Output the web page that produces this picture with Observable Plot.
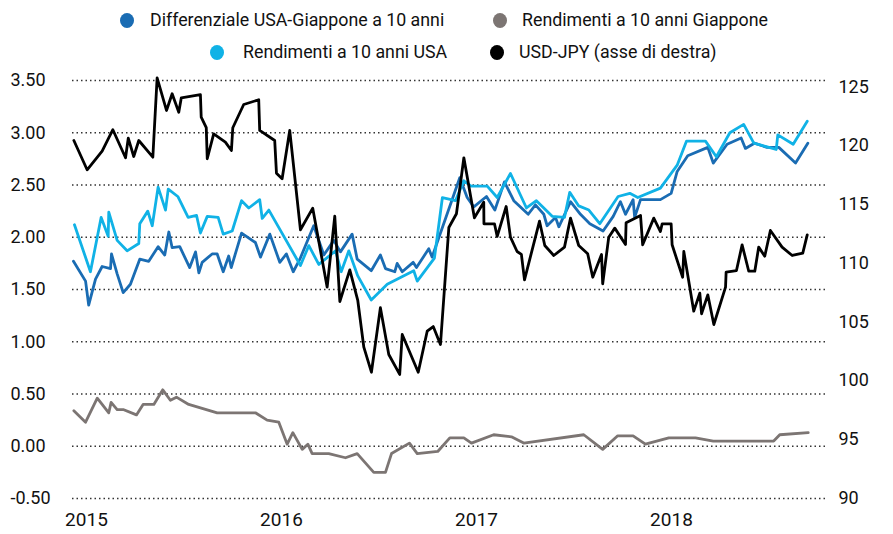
<!DOCTYPE html>
<html><head><meta charset="utf-8">
<script src="https://cdn.jsdelivr.net/npm/d3@7"></script>
<script src="https://cdn.jsdelivr.net/npm/@observablehq/plot@0.6"></script>
<style>
body{margin:0;background:#fff;font-family:Roboto,"Noto Sans",sans-serif;color:#111;}
#legend{height:68px;position:relative;width:893px;}
.dot{position:absolute;width:14px;height:15px;border-radius:50%;}
.lab{position:absolute;font-size:17.8px;line-height:20px;white-space:nowrap;}
</style></head>
<body>
<div id="legend"></div>
<div id="chart"></div>
<script>
// ---- data ----
const seriesNames = ["Differenziale USA-Giappone a 10 anni","Rendimenti a 10 anni Giappone","Rendimenti a 10 anni USA","USD-JPY (asse di destra)"];
const seriesColors = ["#1a6cb3","#7c7573","#10b2e6","#000000"];

const diffDates = [2015.000,2015.062,2015.078,2015.113,2015.147,2015.190,2015.195,2015.224,2015.255,2015.292,2015.340,2015.386,2015.434,2015.468,2015.489,2015.506,2015.545,2015.596,2015.626,2015.643,2015.660,2015.711,2015.737,2015.768,2015.796,2015.809,2015.862,2015.933,2015.959,2016.007,2016.058,2016.092,2016.127,2016.161,2016.232,2016.284,2016.335,2016.369,2016.429,2016.455,2016.527,2016.574,2016.600,2016.648,2016.660,2016.686,2016.742,2016.759,2016.822,2016.839,2016.981,2017.019,2017.053,2017.118,2017.161,2017.210,2017.258,2017.332,2017.369,2017.412,2017.429,2017.472,2017.489,2017.549,2017.600,2017.648,2017.716,2017.768,2017.805,2017.831,2017.870,2017.878,2017.908,2018.010,2018.065,2018.096,2018.150,2018.253,2018.281,2018.352,2018.424,2018.446,2018.492,2018.557,2018.617,2018.703,2018.766];
const diffValues = [1.77,1.58,1.35,1.60,1.72,1.70,1.84,1.65,1.47,1.55,1.79,1.77,1.91,1.83,2.05,1.90,1.91,1.71,1.86,1.66,1.76,1.84,1.84,1.67,1.82,1.71,2.04,1.95,1.81,2.03,1.76,1.84,1.67,1.79,2.11,1.83,1.97,1.86,2.03,1.79,1.68,1.83,1.70,1.67,1.75,1.67,1.76,1.71,1.89,1.81,2.57,2.38,2.29,2.39,2.26,2.53,2.35,2.22,2.31,2.22,2.11,2.19,2.10,2.34,2.22,2.13,2.06,2.20,2.34,2.22,2.36,2.19,2.36,2.36,2.42,2.63,2.78,2.86,2.71,2.89,2.95,2.85,2.90,2.86,2.86,2.71,2.90];

const usDates = [2015.005,2015.087,2015.142,2015.178,2015.181,2015.224,2015.275,2015.335,2015.340,2015.381,2015.404,2015.434,2015.472,2015.486,2015.535,2015.588,2015.631,2015.651,2015.686,2015.742,2015.768,2015.814,2015.862,2015.899,2015.955,2015.968,2016.002,2016.164,2016.207,2016.258,2016.344,2016.373,2016.412,2016.458,2016.527,2016.609,2016.745,2016.763,2016.851,2016.892,2016.959,2017.002,2017.039,2017.122,2017.173,2017.241,2017.323,2017.374,2017.455,2017.518,2017.545,2017.591,2017.643,2017.699,2017.793,2017.853,2017.894,2018.010,2018.096,2018.144,2018.241,2018.297,2018.366,2018.437,2018.489,2018.604,2018.612,2018.691,2018.763];
const usValues = [2.12,1.67,2.19,2.01,2.24,1.97,1.87,1.94,2.13,2.25,2.11,2.48,2.26,2.46,2.39,2.19,2.21,2.04,2.20,2.19,2.03,2.06,2.35,2.28,2.36,2.18,2.26,1.73,1.92,1.74,1.87,1.67,1.87,1.63,1.40,1.55,1.68,1.58,1.80,2.38,2.35,2.54,2.49,2.49,2.38,2.61,2.28,2.35,2.20,2.19,2.43,2.30,2.26,2.13,2.39,2.42,2.38,2.47,2.69,2.92,2.92,2.77,3.00,3.08,2.90,2.84,2.98,2.89,3.11];

const jpDates = [2015.002,2015.062,2015.122,2015.181,2015.193,2015.224,2015.258,2015.323,2015.357,2015.412,2015.458,2015.497,2015.528,2015.591,2015.737,2015.933,2015.993,2016.053,2016.096,2016.125,2016.173,2016.202,2016.224,2016.309,2016.395,2016.455,2016.540,2016.600,2016.631,2016.723,2016.763,2016.868,2016.930,2017.002,2017.041,2017.155,2017.246,2017.309,2017.617,2017.714,2017.791,2017.870,2017.933,2018.053,2018.190,2018.281,2018.591,2018.622,2018.768];
const jpValues = [0.34,0.23,0.46,0.32,0.42,0.35,0.35,0.30,0.40,0.40,0.54,0.44,0.47,0.40,0.32,0.32,0.25,0.23,0.02,0.13,-0.03,0.02,-0.07,-0.07,-0.11,-0.07,-0.25,-0.25,-0.07,0.03,-0.07,-0.05,0.08,0.08,0.03,0.11,0.09,0.03,0.11,-0.03,0.10,0.10,0.02,0.08,0.08,0.05,0.05,0.11,0.13];

const fxDates = [2015.002,2015.070,2015.147,2015.202,2015.267,2015.281,2015.309,2015.335,2015.407,2015.429,2015.477,2015.506,2015.540,2015.553,2015.651,2015.655,2015.681,2015.686,2015.719,2015.779,2015.810,2015.817,2015.873,2015.950,2015.955,2016.032,2016.041,2016.070,2016.109,2016.164,2016.227,2016.301,2016.340,2016.366,2016.417,2016.458,2016.489,2016.528,2016.574,2016.617,2016.673,2016.686,2016.768,2016.814,2016.845,2016.882,2016.925,2016.964,2017.002,2017.056,2017.104,2017.105,2017.159,2017.173,2017.219,2017.241,2017.275,2017.297,2017.313,2017.390,2017.417,2017.463,2017.518,2017.549,2017.591,2017.637,2017.663,2017.708,2017.714,2017.745,2017.776,2017.831,2017.834,2017.908,2017.919,2017.976,2018.010,2018.019,2018.065,2018.070,2018.124,2018.130,2018.181,2018.212,2018.221,2018.253,2018.284,2018.344,2018.347,2018.400,2018.429,2018.463,2018.494,2018.514,2018.545,2018.574,2018.634,2018.686,2018.740,2018.763];
const fxValues = [120.44,117.95,119.53,121.36,118.97,120.64,119.08,120.44,119.02,125.78,123.00,124.42,122.85,124.08,124.34,122.43,121.53,118.89,121.01,120.30,119.59,121.53,123.51,123.91,121.30,120.44,117.66,117.18,121.30,112.84,114.68,107.95,114.00,106.73,109.43,106.82,102.84,100.71,106.20,102.22,100.52,103.92,100.71,104.20,104.60,103.07,113.03,114.20,118.97,113.86,115.19,113.35,113.35,112.27,114.82,112.21,110.99,110.74,108.58,113.57,111.50,110.65,111.36,113.83,111.50,110.80,108.80,110.74,108.24,112.21,112.98,111.59,113.44,114.06,111.56,113.83,112.69,113.35,113.35,111.56,108.80,110.99,105.91,107.44,105.69,107.30,104.77,107.95,109.23,109.37,111.56,109.31,109.31,111.36,110.59,112.78,111.36,110.65,110.85,112.41];

const leftTicks = [-0.5,0,0.5,1,1.5,2,2.5,3,3.5];
const rightTicks = [90,95,100,105,110,115,120,125];
const yearTicks = [2015,2016,2017,2018];

// ---- right axis mapping (USD-JPY onto left scale) ----
const rToL = d3.scaleLinear().domain([90,125]).range([-0.495,3.438]);

// ---- legend ----
const legendItems = [
  {i:0, dx:127, tx:150, cy:20},
  {i:1, dx:500, tx:522, cy:20},
  {i:2, dx:217, tx:243, cy:52},
  {i:3, dx:497, tx:519, cy:52}
];
const lg = document.getElementById("legend");
for (const it of legendItems) {
  const d = document.createElement("div");
  d.className = "dot";
  d.style.left = (it.dx-7)+"px"; d.style.top = (it.cy-7.5)+"px";
  d.style.background = seriesColors[it.i];
  lg.appendChild(d);
  const t = document.createElement("div");
  t.className = "lab";
  t.style.left = it.tx+"px"; t.style.top = (it.cy-10)+"px";
  t.textContent = seriesNames[it.i];
  lg.appendChild(t);
}

// ---- rows ----
const rows = (xs, vs, f=(v)=>v) => xs.map((x,i)=>({x, y:f(vs[i])}));
const diffRows = rows(diffDates, diffValues);
const usRows = rows(usDates, usValues);
const jpRows = rows(jpDates, jpValues);
const fxRows = rows(fxDates, fxValues, v=>rToL(v));

const chart = Plot.plot({
  width: 893,
  height: 466,
  marginLeft: 72,
  marginRight: 65,
  marginTop: 12,
  marginBottom: 36,
  style: {fontFamily: "Roboto, 'Noto Sans', sans-serif", fontSize: "18px", color: "#111", background: "#fff"},
  x: {domain: [2014.995, 2018.872], axis: null},
  y: {domain: [-0.5, 3.5], axis: null},
  marks: [
    Plot.ruleY(leftTicks, {stroke: "#333", strokeWidth: 1.5, strokeDasharray: "1.5,3"}),
    Plot.line(jpRows, {x: "x", y: "y", stroke: seriesColors[1], strokeWidth: 2.8}),
    Plot.line(diffRows, {x: "x", y: "y", stroke: seriesColors[0], strokeWidth: 2.8}),
    Plot.line(usRows, {x: "x", y: "y", stroke: seriesColors[2], strokeWidth: 2.8}),
    Plot.line(fxRows, {x: "x", y: "y", stroke: seriesColors[3], strokeWidth: 2.8}),
    Plot.axisY(leftTicks, {anchor: "left", label: null, tickSize: 0, tickPadding: 0, textAnchor: "start", dx: 10 - 72, tickFormat: v => v.toFixed(2), fontSize: 18}),
    Plot.axisY(rightTicks.map(v => rToL(v)), {anchor: "right", label: null, tickSize: 0, tickPadding: 10, textAnchor: "start", tickFormat: v => String(Math.round(rToL.invert(v))), fontSize: 18}),
    Plot.axisX(yearTicks, {anchor: "bottom", label: null, tickSize: 0, tickPadding: 14, dx: 13, tickFormat: d => String(d), fontSize: 19})
  ]
});
document.getElementById("chart").appendChild(chart);
</script>
</body></html>
